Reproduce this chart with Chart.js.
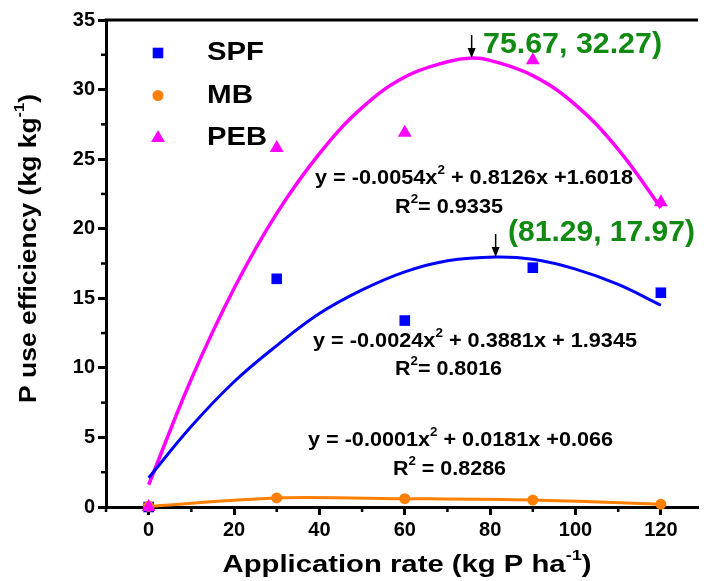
<!DOCTYPE html>
<html>
<head>
<meta charset="utf-8">
<script src="https://cdn.jsdelivr.net/npm/chart.js@4.4.0/dist/chart.umd.min.js"></script>
<style>
  html, body { margin: 0; padding: 0; background: #fff; overflow: hidden; }
</style>
</head>
<body>
<canvas id="chart" width="706" height="581"></canvas>
<script>
// measured points
const rates = [0, 30, 60, 90, 120];
const spfValues = [0, 16.4, 13.4, 17.2, 15.4];
const mbValues = [0.05, 0.65, 0.6, 0.5, 0.2];
const pebValues = [0, 25.8, 26.9, 32.1, 21.9];

// fitted curves
const spfFitX = [0, 10, 20, 30, 40, 50, 60, 70, 81.29, 90, 100, 110, 120];
const spfFitY = [2.1, 5.8, 9.0, 11.6, 13.9, 15.6, 16.9, 17.7, 17.97, 17.8, 17.1, 16.0, 14.5];
const pebFitX = [0, 10, 20, 30, 40, 50, 60, 70, 75.67, 80, 90, 100, 110, 120];
const pebFitY = [1.6, 9.2, 15.7, 21.1, 25.4, 28.7, 30.9, 32.0, 32.27, 32.1, 31.0, 28.9, 25.7, 21.5];

const xTicks = [0, 20, 40, 60, 80, 100, 120];
const yTicks = [0, 5, 10, 15, 20, 25, 30, 35];
const peakX = [75.67, 81.29];
const peakY = [32.27, 17.97];

const FONT = "'Liberation Sans', Arial, sans-serif";
const pts = (xs, ys) => xs.map((x, i) => ({ x: x, y: ys[i] }));

const pebPoints = {
  label: 'PEB', type: 'scatter', data: pts(rates, pebValues),
  pointStyle: 'triangle', pointRadius: 8, backgroundColor: '#ff00ff', borderColor: '#ff00ff',
  borderWidth: 0, clip: false
};
const mbPoints = {
  label: 'MB', type: 'line', data: pts(rates, mbValues),
  pointStyle: 'circle', pointRadius: 5.5, backgroundColor: '#ff8000', borderColor: '#ff8000',
  pointBorderWidth: 0, borderWidth: 3, tension: 0.3, clip: false
};
const spfPoints = {
  label: 'SPF', type: 'scatter', data: pts(rates, spfValues),
  pointStyle: 'rect', pointRadius: 7.5, backgroundColor: '#0000ff', borderColor: '#0000ff',
  borderWidth: 0, clip: false
};

function drawRich(ctx, segs, x, y, size, width, align, color) {
  ctx.save();
  ctx.fillStyle = color || '#000';
  ctx.textBaseline = 'middle';
  let total = 0;
  segs.forEach(s => {
    ctx.font = 'bold ' + (s[1] ? size * 0.62 : size) + 'px ' + FONT;
    total += ctx.measureText(s[0]).width;
  });
  const sx = width ? width / total : 1;
  const start = align === 'left' ? x : x - total * sx / 2;
  ctx.translate(start, y);
  ctx.scale(sx, 1);
  let cx = 0;
  segs.forEach(s => {
    ctx.font = 'bold ' + (s[1] ? size * 0.62 : size) + 'px ' + FONT;
    ctx.fillText(s[0], cx, s[1] ? -size * 0.36 : 0);
    cx += ctx.measureText(s[0]).width;
  });
  ctx.restore();
}

const extras = {
  id: 'extras',
  afterDraw(chart) {
    const ctx = chart.ctx, a = chart.chartArea;
    const xs = chart.scales.x, ys = chart.scales.y;
    ctx.save();
    ctx.strokeStyle = '#000';
    ctx.lineWidth = 3;
    ctx.beginPath();
    ctx.moveTo(a.left - 1.5, a.top);
    ctx.lineTo(a.right, a.top);
    ctx.stroke();
    // minor ticks
    ctx.lineWidth = 2.5;
    for (let v = -10; v <= 120; v += 20) {
      const px = xs.getPixelForValue(v);
      ctx.beginPath(); ctx.moveTo(px, a.bottom); ctx.lineTo(px, a.bottom + 5); ctx.stroke();
    }
    for (let v = 2.5; v < 35; v += 5) {
      const py = ys.getPixelForValue(v);
      ctx.beginPath(); ctx.moveTo(a.left, py); ctx.lineTo(a.left - 5, py); ctx.stroke();
    }
    // peak arrows
    ctx.fillStyle = '#000';
    ctx.lineWidth = 1.5;
    peakX.forEach((v, i) => {
      const px = xs.getPixelForValue(v), py = ys.getPixelForValue(peakY[i]);
      ctx.beginPath(); ctx.moveTo(px, py - 23); ctx.lineTo(px, py - 8); ctx.stroke();
      ctx.beginPath(); ctx.moveTo(px - 4, py - 10); ctx.lineTo(px + 4, py - 10); ctx.lineTo(px, py); ctx.closePath(); ctx.fill();
    });
    ctx.restore();

    // legend
    [spfPoints, mbPoints, pebPoints].forEach((ds, i) => {
      const y = 53 + i * 42.5;
      ctx.save();
      ctx.fillStyle = ds.backgroundColor;
      ctx.strokeStyle = ds.backgroundColor;
      Chart.helpers.drawPoint(ctx, { pointStyle: ds.pointStyle, radius: ds.pointRadius, rotation: 0, borderWidth: 0 }, 158, y);
      ctx.restore();
      drawRich(ctx, [[ds.label]], 207, y, 26, [57, 46, 60][i], 'left');
    });

    // equations
    drawRich(ctx, [['y = -0.0054x'], ['2', 1], [' + 0.8126x +1.6018']], 474, 178, 20, 318);
    drawRich(ctx, [['R'], ['2', 1], ['= 0.9335']], 449, 207, 20, 108);
    drawRich(ctx, [['y = -0.0024x'], ['2', 1], [' + 0.3881x + 1.9345']], 475, 341, 20, 324);
    drawRich(ctx, [['R'], ['2', 1], ['= 0.8016']], 448.5, 369, 20, 107);
    drawRich(ctx, [['y = -0.0001x'], ['2', 1], [' + 0.0181x +0.066']], 460.5, 440, 20, 305);
    drawRich(ctx, [['R'], ['2', 1], [' = 0.8286']], 449.5, 469, 20, 113);

    // vertex labels
    drawRich(ctx, [['75.67, 32.27)']], 483, 45, 29, 179, 'left', '#118a11');
    drawRich(ctx, [['(81.29, 17.97)']], 508, 233, 29, 187, 'left', '#118a11');

    // axis titles
    drawRich(ctx, [['Application rate (kg P ha'], ['-1', 1], [')']], 407, 565, 24, 369);
    ctx.save();
    ctx.translate(29, 248.5);
    ctx.rotate(-Math.PI / 2);
    drawRich(ctx, [['P use efficiency (kg kg'], ['-1', 1], [')']], 0, 0, 24, 309);
    ctx.restore();
  }
};

new Chart(document.getElementById('chart'), {
  type: 'scatter',
  data: {
    datasets: [
      pebPoints,
      mbPoints,
      spfPoints,
      { label: 'SPF fit', type: 'line', data: pts(spfFitX, spfFitY), borderColor: '#0000ff',
        borderWidth: 3, pointRadius: 0, tension: 0.4 },
      { label: 'PEB fit', type: 'line', data: pts(pebFitX, pebFitY), borderColor: '#ff00ff',
        borderWidth: 3.5, pointRadius: 0, tension: 0.4 }
    ]
  },
  options: {
    responsive: false,
    animation: false,
    layout: { padding: { top: 20, right: 0, left: 0, bottom: 0 } },
    plugins: { legend: { display: false }, tooltip: { enabled: false } },
    scales: {
      x: {
        type: 'linear', min: -10, max: 128.7,
        afterBuildTicks: s => { s.ticks = xTicks.map(v => ({ value: v })); },
        afterFit: s => { s.height = 74; },
        ticks: { color: '#000', padding: 3, maxRotation: 0, font: { family: FONT, size: 20, weight: 'bold' } },
        grid: { drawOnChartArea: false, tickLength: 8, tickWidth: 3, tickColor: '#000' },
        border: { color: '#000', width: 3 }
      },
      y: {
        min: 0, max: 35,
        afterBuildTicks: s => { s.ticks = yTicks.map(v => ({ value: v })); },
        afterFit: s => { s.width = 106; },
        ticks: { color: '#000', padding: 3, font: { family: FONT, size: 20, weight: 'bold' } },
        grid: { drawOnChartArea: false, tickLength: 8, tickWidth: 3, tickColor: '#000' },
        border: { color: '#000', width: 3 }
      }
    }
  },
  plugins: [extras]
});
</script>
</body>
</html>
